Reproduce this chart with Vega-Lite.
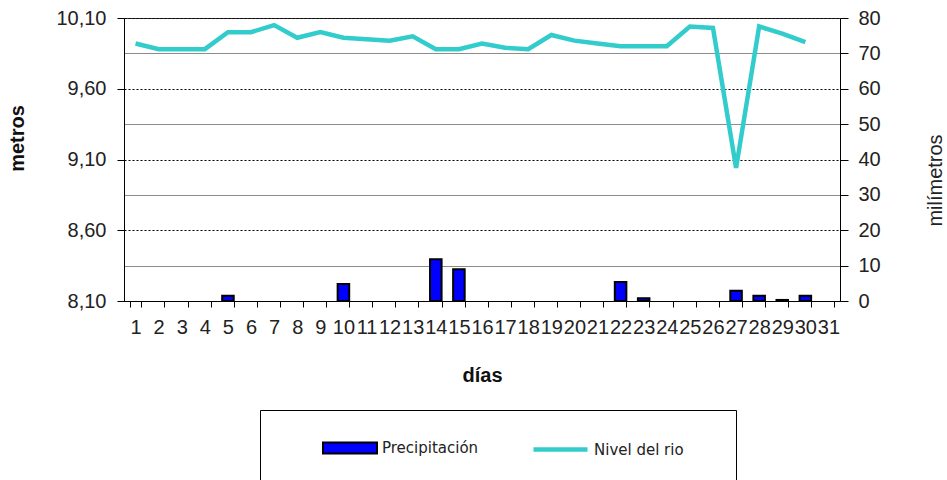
{
  "$schema": "https://vega.github.io/schema/vega-lite/v6.json",
  "width": 716,
  "height": 283,
  "autosize": "none",
  "padding": {"left": 124, "top": 18, "right": 107, "bottom": 179},
  "background": "white",
  "config": {
    "view": {"stroke": "#333", "strokeWidth": 1},
    "font": "Liberation Sans"
  },
  "data": {
    "values": [
      {"dia": 1, "precip": null, "nivel": 9.92},
      {"dia": 2, "precip": null, "nivel": 9.88},
      {"dia": 3, "precip": null, "nivel": 9.88},
      {"dia": 4, "precip": null, "nivel": 9.88},
      {"dia": 5, "precip": 1.5, "nivel": 10.0},
      {"dia": 6, "precip": null, "nivel": 10.0},
      {"dia": 7, "precip": null, "nivel": 10.05},
      {"dia": 8, "precip": null, "nivel": 9.96},
      {"dia": 9, "precip": null, "nivel": 10.0},
      {"dia": 10, "precip": 4.8, "nivel": 9.96},
      {"dia": 11, "precip": null, "nivel": 9.95},
      {"dia": 12, "precip": null, "nivel": 9.94},
      {"dia": 13, "precip": null, "nivel": 9.97},
      {"dia": 14, "precip": 11.8, "nivel": 9.88},
      {"dia": 15, "precip": 9.0, "nivel": 9.88},
      {"dia": 16, "precip": null, "nivel": 9.92},
      {"dia": 17, "precip": null, "nivel": 9.89},
      {"dia": 18, "precip": null, "nivel": 9.88},
      {"dia": 19, "precip": null, "nivel": 9.98},
      {"dia": 20, "precip": null, "nivel": 9.94},
      {"dia": 21, "precip": null, "nivel": 9.92},
      {"dia": 22, "precip": 5.4, "nivel": 9.9},
      {"dia": 23, "precip": 0.8, "nivel": 9.9},
      {"dia": 24, "precip": null, "nivel": 9.9},
      {"dia": 25, "precip": null, "nivel": 10.04},
      {"dia": 26, "precip": null, "nivel": 10.03},
      {"dia": 27, "precip": 2.9, "nivel": 9.04},
      {"dia": 28, "precip": 1.5, "nivel": 10.04},
      {"dia": 29, "precip": 0.3, "nivel": 9.99},
      {"dia": 30, "precip": 1.5, "nivel": 9.93},
      {"dia": 31, "precip": null, "nivel": null}
    ]
  },
  "encoding": {
    "x": {
      "field": "dia",
      "type": "ordinal",
      "scale": {
        "domain": [1,2,3,4,5,6,7,8,9,10,11,12,13,14,15,16,17,18,19,20,21,22,23,24,25,26,27,28,29,30,31],
        "paddingInner": 0.5,
        "paddingOuter": 0.25
      },
      "axis": {
        "title": "días",
        "titleFont": "Liberation Sans",
        "titleFontSize": 20,
        "titleFontWeight": "bold",
        "titleColor": "#111",
        "titleY": 74,
        "titleBaseline": "middle",
        "labelAngle": 0,
        "labelFontSize": 20,
        "labelColor": "#222",
        "labelPadding": 10,
        "labelOverlap": false,
        "labelBound": false,
        "labelFlush": false,
        "tickBand": "extent",
        "tickSize": 6,
        "tickColor": "#000",
        "domainColor": "#000",
        "grid": false
      }
    }
  },
  "layer": [
    {
      "mark": {"type": "bar", "stroke": "#000", "strokeWidth": 2},
      "encoding": {
        "y": {
          "field": "precip",
          "type": "quantitative",
          "scale": {"domain": [0, 80], "nice": false},
          "axis": {
            "orient": "right",
            "title": "milímetros",
            "titleFont": "Liberation Sans",
            "titleFontSize": 20,
            "titleFontWeight": "normal",
            "titleColor": "#222",
            "titleAngle": 270,
            "titleX": 95,
            "titleY": 162,
            "titleAlign": "center",
            "titleBaseline": "middle",
            "values": [0,10,20,30,40,50,60,70,80],
            "labelFontSize": 20,
            "labelColor": "#222",
            "labelPadding": 10,
            "tickSize": 8,
            "tickColor": "#000",
            "domainColor": "#000",
            "grid": true,
            "gridColor": {"condition": {"test": "datum.value % 20 == 10", "value": "#8c8c8c"}, "value": "transparent"},
            "gridWidth": 1.2
          }
        },
        "fill": {
          "datum": "Precipitación",
          "scale": {"domain": ["Precipitación"], "range": ["#0000FF"]},
          "legend": {
            "title": " ",
            "titleOrient": "right",
            "titleAnchor": "start",
            "titleBaseline": "top",
            "titlePadding": 248,
            "titleFontSize": 60,
            "orient": "none",
            "legendX": 136,
            "legendY": 392,
            "direction": "horizontal",
            "padding": 10,
            "symbolOffset": 52,
            "strokeColor": "#000",
            "labelFont": "DejaVu Sans",
            "labelFontSize": 15,
            "labelColor": "#222",
            "labelOffset": 4,
            "symbolSize": 2916,
            "symbolType": "M-1,-0.2H1V0.2H-1Z",
            "symbolStrokeColor": "#000",
            "symbolStrokeWidth": 2,
            "symbolOpacity": 1
          }
        }
      }
    },
    {
      "mark": {"type": "line", "strokeWidth": 4.5},
      "encoding": {
        "y": {
          "field": "nivel",
          "type": "quantitative",
          "scale": {"domain": [8.1, 10.1], "nice": false, "zero": false},
          "axis": {
            "orient": "left",
            "title": "metros",
            "titleFont": "Liberation Sans",
            "titleFontSize": 20,
            "titleFontWeight": "bold",
            "titleColor": "#111",
            "titleAngle": 270,
            "titleX": -107,
            "titleY": 120,
            "titleAlign": "center",
            "titleBaseline": "middle",
            "values": [8.1, 8.6, 9.1, 9.6, 10.1],
            "labelExpr": "replace(format(datum.value, '.2f'), '.', ',')",
            "labelFontSize": 20,
            "labelColor": "#222",
            "labelPadding": 11,
            "tickSize": 7,
            "tickColor": "#000",
            "domainColor": "#000",
            "grid": true,
            "gridColor": "#000",
            "gridDash": [2, 2],
            "gridWidth": 1
          }
        },
        "stroke": {
          "datum": "Nivel del rio",
          "scale": {"domain": ["Nivel del rio"], "range": ["#33CCCC"]},
          "legend": {
            "title": null,
            "orient": "none",
            "legendX": 407,
            "legendY": 402,
            "padding": 0,
            "labelFont": "DejaVu Sans",
            "labelFontSize": 15,
            "labelColor": "#222",
            "labelOffset": 4,
            "symbolSize": 2916,
            "symbolType": "stroke",
            "symbolStrokeWidth": 4.5,
            "symbolOpacity": 1
          }
        }
      }
    }
  ],
  "resolve": {"scale": {"y": "independent"}}
}
